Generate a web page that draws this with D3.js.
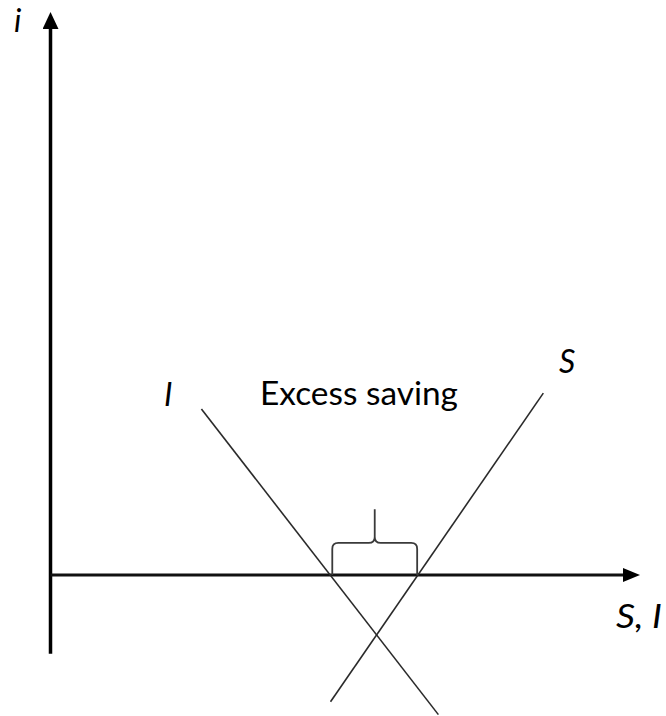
<!DOCTYPE html>
<html>
<head>
<meta charset="utf-8">
<script src="https://d3js.org/d3.v7.min.js"></script>
<style>
  body { margin: 0; background: #fff; }
  svg { display: block; }
</style>
</head>
<body>
<script>
// axis extents (data units)
const xAxisExtent = [0, 10];
const yAxisExtent = [-1.4, 10];

// investment (I) and saving (S) schedules, endpoints in data units
const investLine = [{x: 2.56, y: 2.95}, {x: 6.58, y: -2.48}];
const savingLine = [{x: 4.75, y: -2.25}, {x: 8.36, y: 3.23}];

// brace spanning the gap between the two lines at i = 0
const braceFrom = 4.78, braceTo = 6.22, braceHeight = 0.57, braceTip = 1.17;

const labels = {yAxis: "i", xAxis: "S, I", invest: "I", saving: "S", gap: "Excess saving"};

const width = 666, height = 716;

const x = d3.scaleLinear().domain([0, 10]).range([50.5, 640]);
const y = d3.scaleLinear().domain([0, 10]).range([575, 12]);

const svg = d3.select("body").append("svg")
  .attr("width", width)
  .attr("height", height);

// arrow heads
const defs = svg.append("defs");
defs.append("marker")
  .attr("id", "arrowUp")
  .attr("viewBox", "0 0 16 17")
  .attr("refX", 8).attr("refY", 10)
  .attr("markerWidth", 16).attr("markerHeight", 17)
  .attr("markerUnits", "userSpaceOnUse")
  .attr("orient", "0")
  .append("path")
  .attr("d", "M0,17 L8,0 L16,17 Z")
  .attr("fill", "#000");
defs.append("marker")
  .attr("id", "arrowRight")
  .attr("viewBox", "0 0 17 14")
  .attr("refX", 5).attr("refY", 7)
  .attr("markerWidth", 17).attr("markerHeight", 14)
  .attr("markerUnits", "userSpaceOnUse")
  .attr("orient", "0")
  .append("path")
  .attr("d", "M0,0 L17,7 L0,14 Z")
  .attr("fill", "#000");

// vertical axis
svg.append("line")
  .attr("x1", x(0)).attr("x2", x(0))
  .attr("y1", y(yAxisExtent[0])).attr("y2", y(yAxisExtent[1]) + 10)
  .attr("stroke", "#000")
  .attr("stroke-width", 3.5)
  .attr("marker-end", "url(#arrowUp)");

// horizontal axis
svg.append("line")
  .attr("x1", x(xAxisExtent[0])).attr("x2", x(xAxisExtent[1]) - 12)
  .attr("y1", y(0)).attr("y2", y(0))
  .attr("stroke", "#111")
  .attr("stroke-width", 3)
  .attr("marker-end", "url(#arrowRight)");

const line = d3.line().x(d => x(d.x)).y(d => y(d.y));

svg.append("path")
  .datum(investLine)
  .attr("d", line)
  .attr("fill", "none")
  .attr("stroke", "#2a2a2a")
  .attr("stroke-width", 1.6);

svg.append("path")
  .datum(savingLine)
  .attr("d", line)
  .attr("fill", "none")
  .attr("stroke", "#2a2a2a")
  .attr("stroke-width", 1.6);

// curly brace
const bx0 = x(braceFrom), bx1 = x(braceTo), bmid = (bx0 + bx1) / 2;
const by0 = y(0), by1 = y(braceHeight), byTip = y(braceTip), r = 6;
const p = d3.path();
p.moveTo(bx0, by0);
p.lineTo(bx0, by1 + r);
p.quadraticCurveTo(bx0, by1, bx0 + r, by1);
p.lineTo(bmid - r, by1);
p.quadraticCurveTo(bmid, by1, bmid, by1 - r);
p.lineTo(bmid, byTip);
p.moveTo(bmid, by1 - r);
p.quadraticCurveTo(bmid, by1, bmid + r, by1);
p.lineTo(bx1 - r, by1);
p.quadraticCurveTo(bx1, by1, bx1, by1 + r);
p.lineTo(bx1, by0);
svg.append("path")
  .attr("d", p.toString())
  .attr("fill", "none")
  .attr("stroke", "#3a3a3a")
  .attr("stroke-width", 1.8);

// labels
const font = "Lato, 'Open Sans', sans-serif";
function label(txt, px, py, size, italic, len) {
  const t = svg.append("text")
    .attr("x", px).attr("y", py)
    .attr("font-family", font)
    .attr("font-size", size)
    .attr("font-style", italic ? "italic" : "normal")
    .attr("fill", "#000")
    .text(txt);
  if (len) t.attr("textLength", len).attr("lengthAdjust", "spacingAndGlyphs");
  return t;
}
label(labels.yAxis, 14, 32, 32, true);
label(labels.xAxis, 616, 628, 32, true, 46);
label(labels.invest, 164, 406, 32, true);
label(labels.saving, 559, 373, 32, true);
label(labels.gap, 260, 405, 32, false, 198);
</script>
</body>
</html>
